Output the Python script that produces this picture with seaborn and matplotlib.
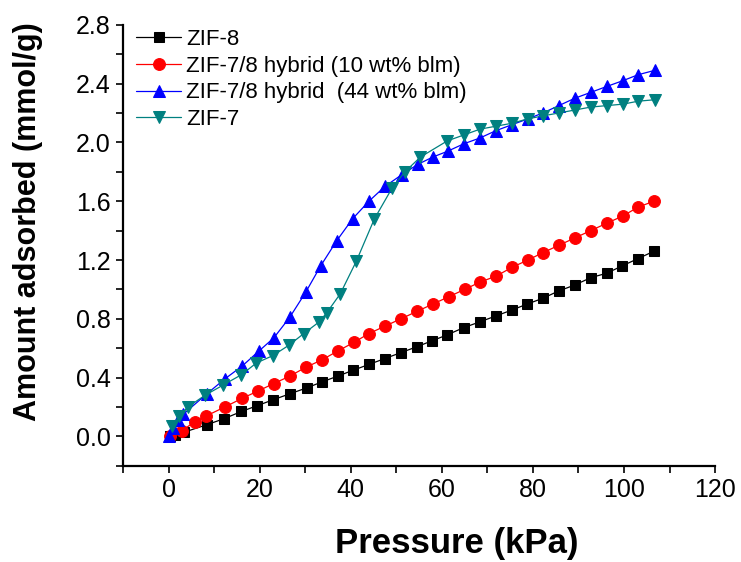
import numpy as np
import pandas as pd
import matplotlib
matplotlib.use("Agg")
import matplotlib.pyplot as plt
import seaborn as sns
from matplotlib.ticker import MultipleLocator, FormatStrFormatter

# ZIF-8
zif8_p = [0.3, 1.5, 3.5, 8.4, 12.1, 16.0, 19.5, 23.0, 26.6, 30.3, 33.6, 37.1, 40.5, 44.0, 47.5, 51.0,
          54.5, 57.8, 61.1, 64.8, 68.4, 71.9, 75.4, 78.7, 82.2, 85.7, 89.2, 92.7, 96.2, 99.6, 103.1, 106.6]
zif8_q = [0.0, 0.01, 0.03, 0.08, 0.12, 0.17, 0.21, 0.25, 0.29, 0.33, 0.37, 0.41, 0.45, 0.49, 0.53, 0.57,
          0.61, 0.65, 0.69, 0.74, 0.78, 0.82, 0.86, 0.90, 0.94, 0.99, 1.03, 1.08, 1.11, 1.16, 1.21, 1.26]

# ZIF-7/8 hybrid (10 wt% bIm)
h10_p = [0.3, 3.0, 5.7, 8.3, 12.3, 16.2, 19.7, 23.1, 26.6, 30.1, 33.6, 37.1, 40.7, 44.0, 47.5, 51.0,
         54.5, 58.0, 61.5, 65.0, 68.4, 71.9, 75.4, 78.9, 82.2, 85.7, 89.2, 92.7, 96.2, 99.8, 103.1, 106.6]
h10_q = [0.0, 0.04, 0.10, 0.14, 0.20, 0.26, 0.31, 0.36, 0.41, 0.47, 0.52, 0.58, 0.64, 0.70, 0.75, 0.80,
         0.85, 0.90, 0.95, 1.00, 1.05, 1.09, 1.15, 1.20, 1.25, 1.30, 1.35, 1.40, 1.45, 1.50, 1.56, 1.60]

# ZIF-7/8 hybrid (44 wt% bIm)
h44_p = [0.2, 1.0, 2.0, 3.2, 8.4, 12.3, 16.2, 19.8, 23.1, 26.6, 30.1, 33.4, 36.9, 40.4, 44.0, 47.5, 51.2,
         54.7, 58.0, 61.3, 64.8, 68.4, 71.9, 75.4, 78.9, 82.2, 85.7, 89.2, 92.7, 96.2, 99.8, 103.1, 106.8]
h44_q = [0.0, 0.06, 0.11, 0.15, 0.29, 0.39, 0.48, 0.58, 0.67, 0.81, 0.98, 1.16, 1.33, 1.48, 1.60, 1.70, 1.78,
         1.85, 1.90, 1.94, 1.99, 2.03, 2.08, 2.12, 2.16, 2.20, 2.25, 2.30, 2.34, 2.38, 2.42, 2.46, 2.49]

# ZIF-7
zif7_p = [0.7, 2.4, 4.2, 8.0, 12.0, 16.0, 19.3, 22.9, 26.4, 29.7, 33.1, 34.7, 37.7, 41.2, 45.2, 49.1,
          51.9, 55.3, 61.2, 64.8, 68.4, 71.9, 75.4, 78.9, 82.2, 85.7, 89.2, 92.7, 96.2, 99.8, 103.1, 106.8]
zif7_q = [0.07, 0.14, 0.20, 0.28, 0.35, 0.42, 0.50, 0.55, 0.62, 0.70, 0.78, 0.84, 0.97, 1.19, 1.48, 1.69,
          1.80, 1.90, 2.01, 2.05, 2.09, 2.11, 2.13, 2.16, 2.18, 2.20, 2.22, 2.24, 2.25, 2.26, 2.28, 2.29]

series = [
    ("ZIF-8", zif8_p, zif8_q, "black", "s", 7.5),
    ("ZIF-7/8 hybrid (10 wt% blm)", h10_p, h10_q, "#ff0000", "o", 8.5),
    ("ZIF-7/8 hybrid  (44 wt% blm)", h44_p, h44_q, "#0000ff", "^", 9),
    ("ZIF-7", zif7_p, zif7_q, "#008080", "v", 9),
]

sns.set_style("ticks")
plt.rcParams["font.family"] = ["Liberation Sans", "DejaVu Sans"]
plt.rcParams.update({"text.color": "black", "axes.labelcolor": "black",
                     "xtick.color": "black", "ytick.color": "black",
                     "axes.edgecolor": "black"})

fig = plt.figure(figsize=(7.41, 5.62), dpi=100)
ax = fig.add_axes([0.166, 0.171, 0.799, 0.785])

for name, p, q, c, m, ms in series:
    df = pd.DataFrame({"p": p, "q": q})
    sns.lineplot(data=df, x="p", y="q", ax=ax, color=c, marker=m, markersize=ms,
                 markeredgecolor=c, linewidth=0.9, label=name, sort=False,
                 estimator=None, errorbar=None)

ax.set_xlim(-10, 120)
ax.set_ylim(-0.2, 2.8)
ax.xaxis.set_major_locator(MultipleLocator(20))
ax.xaxis.set_minor_locator(MultipleLocator(10))
ax.yaxis.set_major_locator(MultipleLocator(0.4))
ax.yaxis.set_minor_locator(MultipleLocator(0.2))
ax.yaxis.set_major_formatter(FormatStrFormatter("%.1f"))
ax.tick_params(which="both", direction="out", length=5, width=1.2, labelsize=18, pad=4)
for s in ["left", "bottom"]:
    ax.spines[s].set_linewidth(1.6)
sns.despine(ax=ax)

ax.set_xlabel("Pressure (kPa)", fontsize=25, fontweight="bold")
ax.set_ylabel("Amount adsorbed (mmol/g)", fontsize=22, fontweight="bold")
ax.xaxis.set_label_coords(0.564, -0.138)
ax.yaxis.set_label_coords(-0.135, 0.553)

leg = ax.legend(loc="upper left", bbox_to_anchor=(0.0, 1.02), frameon=False, fontsize=16,
                handlelength=2.0, handletextpad=0.25, labelspacing=0.25, borderaxespad=0.2)

fig.savefig("out.png", dpi=100)
